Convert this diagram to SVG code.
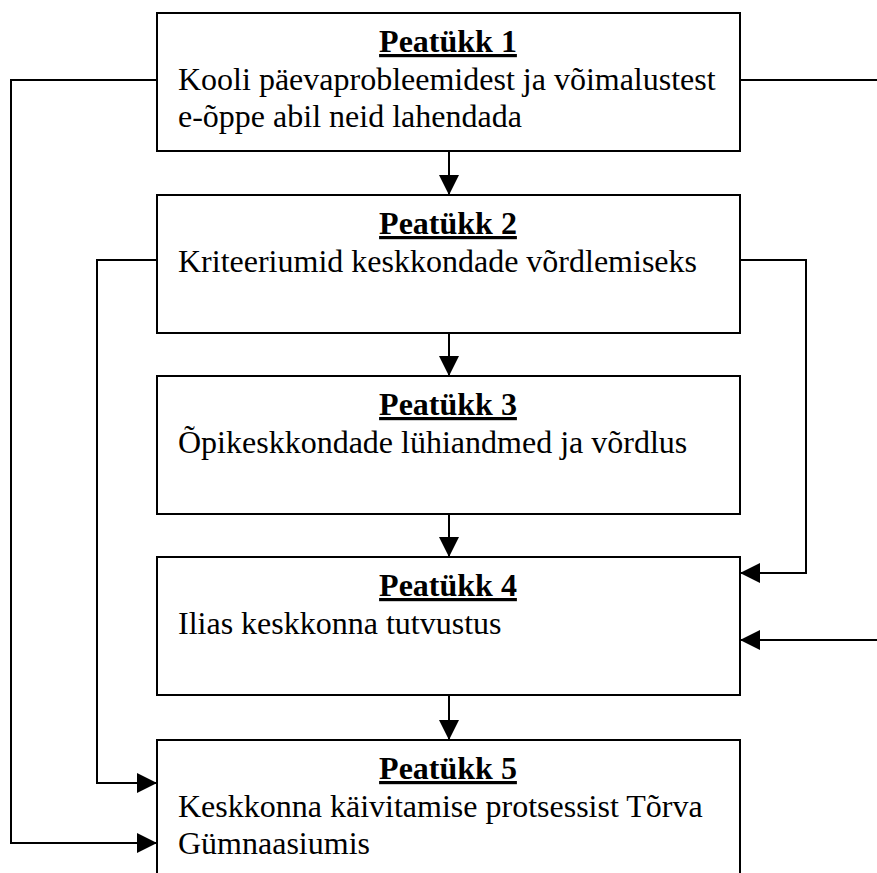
<svg xmlns="http://www.w3.org/2000/svg" width="877" height="873" viewBox="0 0 877 873">
  <style>
    .box { fill: #ffffff; stroke: #000000; stroke-width: 2; }
    .title { font-family: "Liberation Serif", "Times New Roman", serif; font-size: 32px; font-weight: bold; text-anchor: middle; text-decoration: underline; text-decoration-thickness: 3px; fill: #000; }
    .body { font-family: "Liberation Serif", "Times New Roman", serif; font-size: 32px; fill: #000; }
    .conn { fill: none; stroke: #000000; stroke-width: 2; }
  </style>
  <defs>
    <marker id="arrow" markerUnits="userSpaceOnUse" markerWidth="20" markerHeight="22" viewBox="0 0 20 22" refX="20" refY="11" orient="auto">
      <path d="M0,1 L20,11 L0,21 Z" fill="#000"/>
    </marker>
  </defs>
  <rect width="877" height="873" fill="#ffffff"/>

  <g id="connectors">
    <line class="conn" x1="449" y1="151" x2="449" y2="195" marker-end="url(#arrow)"/>
    <line class="conn" x1="449" y1="333" x2="449" y2="376" marker-end="url(#arrow)"/>
    <line class="conn" x1="449" y1="514" x2="449" y2="557" marker-end="url(#arrow)"/>
    <line class="conn" x1="449" y1="695" x2="449" y2="740" marker-end="url(#arrow)"/>
    <polyline class="conn" points="157,80 11,80 11,843 157,843" marker-end="url(#arrow)"/>
    <polyline class="conn" points="157,260 97,260 97,783 157,783" marker-end="url(#arrow)"/>
    <polyline class="conn" points="740,260 806,260 806,573 740,573" marker-end="url(#arrow)"/>
    <line class="conn" x1="740" y1="80" x2="880" y2="80"/>
    <line class="conn" x1="880" y1="640" x2="740" y2="640" marker-end="url(#arrow)"/>
  </g>

  <g id="node1">
    <rect class="box" x="157" y="13" width="583" height="138"/>
    <text class="title" x="448" y="52">Peatükk 1</text>
    <text class="body" x="178" y="90">Kooli päevaprobleemidest ja võimalustest</text>
    <text class="body" x="178" y="127">e-õppe abil neid lahendada</text>
  </g>
  <g id="node2">
    <rect class="box" x="157" y="195" width="583" height="138"/>
    <text class="title" x="448" y="234">Peatükk 2</text>
    <text class="body" x="178" y="272">Kriteeriumid keskkondade võrdlemiseks</text>
  </g>
  <g id="node3">
    <rect class="box" x="157" y="376" width="583" height="138"/>
    <text class="title" x="448" y="415">Peatükk 3</text>
    <text class="body" x="178" y="453">Õpikeskkondade lühiandmed ja võrdlus</text>
  </g>
  <g id="node4">
    <rect class="box" x="157" y="557" width="583" height="138"/>
    <text class="title" x="448" y="596">Peatükk 4</text>
    <text class="body" x="178" y="634">Ilias keskkonna tutvustus</text>
  </g>
  <g id="node5">
    <rect class="box" x="157" y="740" width="583" height="145"/>
    <text class="title" x="448" y="779">Peatükk 5</text>
    <text class="body" x="178" y="817">Keskkonna käivitamise protsessist Tõrva</text>
    <text class="body" x="178" y="854">Gümnaasiumis</text>
  </g>
</svg>
